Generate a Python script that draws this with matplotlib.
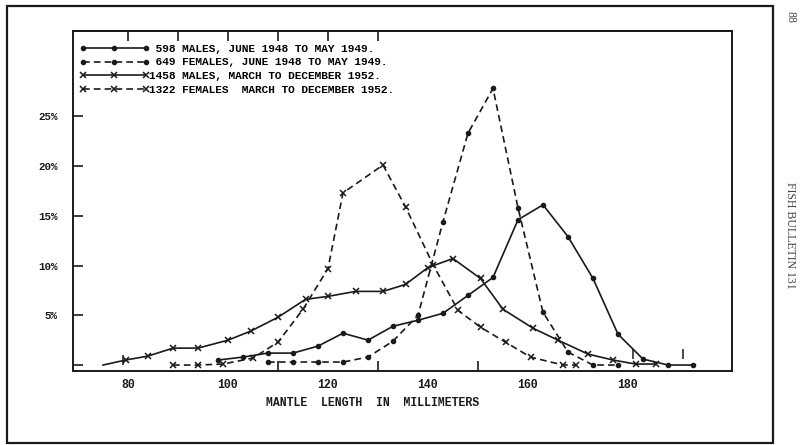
import matplotlib.pyplot as plt
import matplotlib.patches as patches

# ======= DATOS ======= #

# 598 males, june 1948 to may 1949 (solid, dots)
m48_x = [98, 103, 108, 113, 118, 123, 128, 133, 138, 143, 148, 153, 158, 163, 168, 173, 178, 183, 188, 193]
m48_y = [0.5, 0.8, 1.2, 1.2, 1.9, 3.2, 2.5, 3.9, 4.5, 5.2, 7.0, 8.8, 14.6, 16.1, 12.9, 8.7, 3.1, 0.6, 0.0, 0.0]

# 649 females, june 1948 to may 1949 (dashed, dots)
f48_x = [108, 113, 118, 123, 128, 133, 138, 143, 148, 153, 158, 163, 168, 173, 178]
f48_y = [0.3, 0.3, 0.3, 0.3, 0.8, 2.4, 5.0, 14.4, 23.3, 27.8, 15.8, 5.3, 1.3, 0.0, 0.0]

# 1458 males, march to december 1952 (solid, x)
m52_x = [75, 79.5, 84, 89, 94, 100, 104.5, 110, 115.5, 120, 125.5, 131, 135.5, 140, 145,
         150.5, 155, 161, 166, 172, 177, 181.5, 185.5]
m52_y = [0.0, 0.5, 0.9, 1.7, 1.7, 2.5, 3.4, 4.8, 6.6, 6.9, 7.4, 7.4, 8.1, 9.8, 10.7,
         8.7, 5.6, 3.7, 2.5, 1.1, 0.5, 0.1, 0.1]

# 1322 females, march to december 1952 (dashed, x)
f52_x = [89, 94, 99, 105, 110, 115, 120, 123, 131, 135.5, 141, 146, 150.5, 155.5, 160.5, 167, 169.5]
f52_y = [0.0, 0.0, 0.1, 0.7, 2.3, 5.6, 9.7, 17.3, 20.1, 15.9, 10.1, 5.5, 3.8, 2.3, 0.8, 0.0, 0.0]

labels = [
    " 598 MALES, JUNE 1948 TO MAY 1949.",
    " 649 FEMALES, JUNE 1948 TO MAY 1949.",
    "1458 MALES, MARCH TO DECEMBER 1952.",
    "1322 FEMALES  MARCH TO DECEMBER 1952.",
]

# marcas "I" sueltas
range_x = [79, 181, 191]
range_y = [0.5, 1.1, 1.1]

x_ticks = [80, 100, 120, 140, 160, 180]
y_ticks = [0, 5, 10, 15, 20, 25]
y_tick_labels = ["", "5%", "10%", "15%", "20%", "25%"]

# ======= GRAFICO ======= #

FONT = "Liberation Mono"
INK = "#1a1a1a"

fig = plt.figure(figsize=(8, 4.45), dpi=100)
ax = fig.add_axes([73 / 800, 74 / 445, 659 / 800, 340 / 445])

# marco exterior
fig.patches.append(patches.Rectangle((7 / 800, 2 / 445), 766 / 800, 437 / 445,
                                     transform=fig.transFigure, fill=False,
                                     lw=1.6, edgecolor=INK))

ax.plot(m48_x, m48_y, '-', color=INK, lw=1.2, marker='o', ms=3.0, label=labels[0])
ax.plot(f48_x, f48_y, '--', color=INK, lw=1.2, dashes=(4, 2.5), marker='o', ms=3.0, label=labels[1])
ax.plot(m52_x, m52_y, '-', color=INK, lw=1.2, marker='x', ms=4.2, mew=1.1,
        markevery=list(range(1, len(m52_x))), label=labels[2])
ax.plot(f52_x, f52_y, '--', color=INK, lw=1.2, dashes=(4, 2.5), marker='x', ms=4.2, mew=1.1,
        label=labels[3])
ax.plot(range_x, range_y, ls='none', marker='|', ms=7, mew=1.1, color=INK)

ax.set_xlim(69, 200.8)
ax.set_ylim(-0.6, 33.57)

for s in ax.spines.values():
    s.set_linewidth(1.4)
    s.set_color(INK)

ax.set_xticks(x_ticks)
ax.set_xticklabels([str(v) for v in x_ticks], fontfamily=FONT, fontsize=8.3, fontweight='bold')
ax.set_xticks([110, 120, 130, 140, 150, 160], minor=True)
ax.tick_params(axis='x', which='major', length=0, pad=6, colors=INK)
ax.tick_params(axis='x', which='minor', direction='in', length=7, width=1.2, color=INK)

top = ax.secondary_xaxis('top')
top.set_xticks([80, 90, 100, 110, 120, 130])
top.set_xticklabels([])
top.tick_params(direction='in', length=7, width=1.2, color=INK)
top.spines['top'].set_linewidth(1.4)

ax.set_yticks(y_ticks)
ax.set_yticklabels(y_tick_labels, fontfamily=FONT, fontsize=7.8, fontweight='bold')
ax.tick_params(axis='y', direction='in', length=7, width=1.2, pad=11, colors=INK)

ax.set_xlabel("MANTLE  LENGTH  IN  MILLIMETERS", fontfamily=FONT, fontsize=8.3,
              fontweight='bold', x=0.455, labelpad=4, color=INK)

leg = ax.legend(loc='upper left', bbox_to_anchor=(0.0106, 0.962), frameon=False,
                numpoints=3, handlelength=6.2, handletextpad=0.0, labelspacing=0.32,
                borderpad=0, borderaxespad=0,
                prop={'family': FONT, 'size': 8.0, 'weight': 'bold'})

fig.text(0.988, 0.962, "88", rotation=-90, fontfamily="Liberation Serif",
         fontsize=8.5, color="#444444", ha='center', va='center')
fig.text(0.988, 0.472, "FISH BULLETIN 131", rotation=-90, fontfamily="Liberation Serif",
         fontsize=8.5, color="#444444", ha='center', va='center')

fig.savefig("out.png", dpi=100)
